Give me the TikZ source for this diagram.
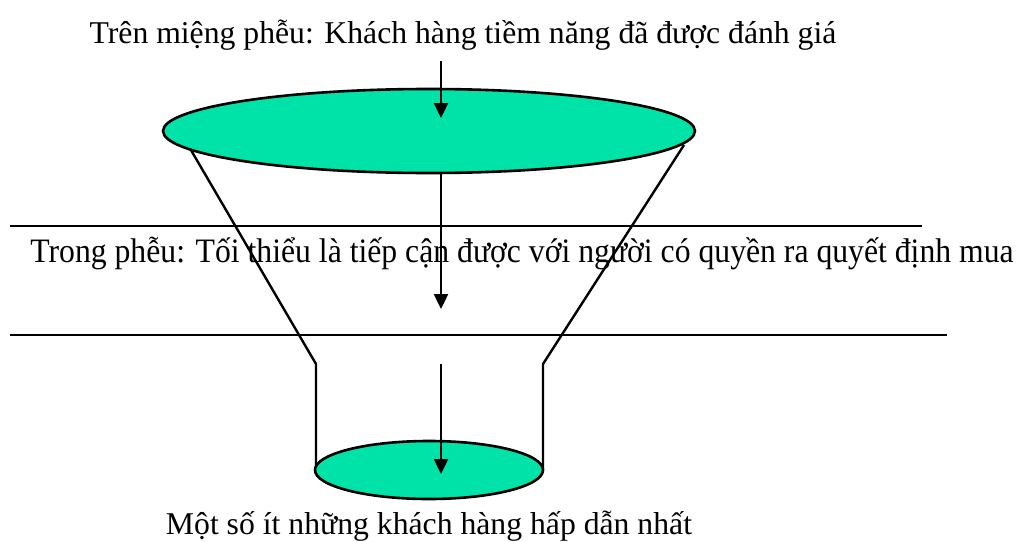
\documentclass[tikz,border=0pt]{standalone}
\usepackage{fontspec}
\setmainfont{Liberation Serif}
\usetikzlibrary{shapes.geometric,arrows.meta}
\definecolor{funnelgreen}{RGB}{0,227,168}
\tikzset{
  lbl/.style={font=\fontsize{31.7}{36}\selectfont, inner sep=0pt, anchor=base},
  disc/.style={ellipse, draw=black, line width=2.6pt, fill=funnelgreen, inner sep=0pt},
  rim/.style={line width=2.4pt},
  flow/.style={line width=2.4pt, -{Triangle[length=15pt,width=14pt]}},
  divider/.style={line width=2.4pt}
}
\begin{document}
\begin{tikzpicture}[x=1pt,y=-1pt]
\useasboundingbox (0,0) rectangle (1023,541);
% texts
\node[lbl] (toptext) at (463,43) {Trên miệng phễu: Khách hàng tiềm năng đã được đánh giá};
\node[lbl] (midtext) at (522,262) {\scalebox{1}[1.08]{Trong phễu: Tối thiểu là tiếp cận được với người có quyền ra quyết định mua}};
\node[lbl] (bottext) at (429,534) {Một số ít những khách hàng hấp dẫn nhất};
% dividers
\coordinate (d1a) at (10,226); \coordinate (d1b) at (922,226);
\coordinate (d2a) at (10,335); \coordinate (d2b) at (947,335);
\draw[divider] (d1a) -- (d1b);
\draw[divider] (d2a) -- (d2b);
% funnel sides
\coordinate (ltop) at (188,145); \coordinate (lk) at (316,364); \coordinate (lb) at (316,470);
\coordinate (rtop) at (684,145); \coordinate (rk) at (543,364); \coordinate (rb) at (543,470);
\draw[rim] (ltop) -- (lk) -- (lb);
\draw[rim] (rtop) -- (rk) -- (rb);
% discs
\node[disc, minimum width=532pt, minimum height=84pt] (topdisc) at (429,131) {};
\node[disc, minimum width=228pt, minimum height=58pt] (botdisc) at (429,470) {};
% arrows
\coordinate (a1s) at (441,61); \coordinate (a1e) at (441,118);
\coordinate (a2s) at (441,172); \coordinate (a2e) at (441,309);
\coordinate (a3s) at (441,364); \coordinate (a3e) at (441,474);
\draw[flow] (a1s) -- (a1e);
\draw[flow] (a2s) -- (a2e);
\draw[flow] (a3s) -- (a3e);
\end{tikzpicture}
\end{document}
